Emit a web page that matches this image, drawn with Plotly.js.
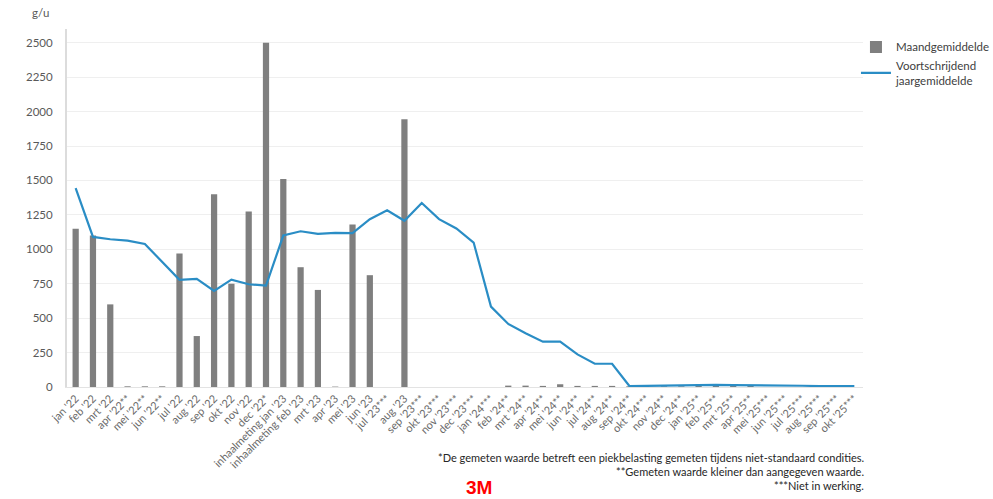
<!DOCTYPE html>
<html>
<head>
<meta charset="utf-8">
<script src="https://cdn.plot.ly/plotly-3.0.1.min.js"></script>
<style>
  html, body { margin: 0; padding: 0; background: #fff; }
  #chart { width: 993px; height: 499px; }
</style>
</head>
<body>
<div id="chart"></div>
<script>
// Maandlabels (x-as)
const months = [
  "jan '22", "feb '22", "mrt '22", "apr '22**", "mei '22**", "jun '22**",
  "jul '22", "aug '22", "sep '22", "okt '22", "nov '22", "dec '22*",
  "inhaalmeting jan '23", "inhaalmeting feb '23", "mrt '23", "apr '23", "mei '23", "jun '23",
  "jul '23***", "aug '23", "sep '23***", "okt '23***", "nov '23***", "dec '23***",
  "jan '24***", "feb '24**", "mrt '24**", "apr '24**", "mei '24**", "jun '24**",
  "jul '24**", "aug '24**", "sep '24**", "okt '24***", "nov '24**", "dec '24**",
  "jan '25**", "feb '25**", "mrt '25**", "apr '25**", "mei '25***", "jun '25***",
  "jul '25***", "aug '25***", "sep '25***", "okt '25***"
];

// Maandgemiddelde (g/u); null = niet in werking
const monthlyAvg = [
  1150, 1100, 600, 5, 5, 5,
  970, 370, 1400, 750, 1275, 2500,
  1510, 870, 705, 3, 1180, 812,
  null, 1945, null, null, null, null,
  null, 10, 10, 8, 20, 8,
  8, 8, 5, null, 5, 5,
  20, 10, 8, 8, null, null,
  null, null, null, null
];

// Voortschrijdend jaargemiddelde (g/u)
const rollingAvg = [
  1445, 1090, 1073, 1063, 1039, 908,
  778, 785, 698, 780, 746, 736,
  1100, 1131, 1112, 1119, 1117, 1219,
  1284, 1207, 1336, 1219, 1151, 1049,
  584, 458, 390, 329, 329, 237,
  169, 169, 7, 8, 10, 12,
  16, 15, 13, 13, 12, 10,
  9, 7, 6, 6
];

const yTicks = [0, 250, 500, 750, 1000, 1250, 1500, 1750, 2000, 2250, 2500];

const FONT = "Lato, 'Open Sans', sans-serif";

const traces = [
  {
    type: 'bar',
    name: 'Maandgemiddelde',
    x: months,
    y: monthlyAvg,
    marker: { color: '#7f7f7f' },
    hoverinfo: 'x+y'
  },
  {
    type: 'scatter',
    mode: 'lines',
    name: 'Voortschrijdend<br>jaargemiddelde',
    x: months,
    y: rollingAvg,
    line: { color: '#2a8dc5', width: 2.2 },
    hoverinfo: 'x+y'
  }
];

const layout = {
  width: 993,
  height: 499,
  paper_bgcolor: '#ffffff',
  plot_bgcolor: '#ffffff',
  margin: { l: 67, r: 130, t: 29, b: 112, autoexpand: false },
  font: { family: FONT, color: '#595959', size: 11 },
  bargap: 0.64,
  showlegend: true,
  legend: {
    xref: 'container', yref: 'container',
    x: 0.862, y: 0.935, xanchor: 'left', yanchor: 'top',
    font: { family: FONT, size: 11.5, color: '#404040' },
    tracegroupgap: 4,
    bgcolor: 'rgba(0,0,0,0)'
  },
  xaxis: {
    type: 'category',
    tickmode: 'linear', dtick: 1,
    tickangle: -45,
    tickfont: { family: FONT, size: 11, color: '#6a6a6a' },
    showgrid: false,
    showline: true, linecolor: '#e3e3e3', linewidth: 1,
    ticks: '',
    automargin: false
  },
  yaxis: {
    range: [0, 2600],
    tickvals: yTicks,
    ticktext: yTicks.map(String),
    tickfont: { family: FONT, size: 11.5, color: '#595959' },
    showgrid: true, gridcolor: '#efefef', gridwidth: 1,
    showline: true, linecolor: '#dcdcdc', linewidth: 2,
    zeroline: false,
    ticks: '',
    ticklabelstandoff: 10,
    automargin: false
  },
  annotations: [
    {
      text: 'g/u', xref: 'paper', yref: 'paper',
      x: -0.033, y: 1.045, xanchor: 'center', yanchor: 'middle',
      showarrow: false, font: { family: FONT, size: 11.5, color: '#595959' }
    },
    {
      text: '*De gemeten waarde betreft een piekbelasting gemeten tijdens niet-standaard condities.',
      xref: 'paper', yref: 'paper', x: 1.004, y: -0.198,
      xanchor: 'right', yanchor: 'middle', showarrow: false,
      font: { family: FONT, size: 11, color: '#262626' }
    },
    {
      text: '**Gemeten waarde kleiner dan aangegeven waarde.',
      xref: 'paper', yref: 'paper', x: 1.004, y: -0.236,
      xanchor: 'right', yanchor: 'middle', showarrow: false,
      font: { family: FONT, size: 11, color: '#262626' }
    },
    {
      text: '***Niet in werking.',
      xref: 'paper', yref: 'paper', x: 1.004, y: -0.274,
      xanchor: 'right', yanchor: 'middle', showarrow: false,
      font: { family: FONT, size: 11, color: '#262626' }
    },
    {
      text: '<b>3M</b>',
      xref: 'paper', yref: 'paper', x: 0.517, y: -0.282,
      xanchor: 'center', yanchor: 'middle', showarrow: false,
      font: { family: "'Liberation Sans', Arial, sans-serif", size: 19, color: '#ff0000' }
    }
  ]
};

Plotly.newPlot('chart', traces, layout, { displayModeBar: false, staticPlot: true });
</script>
</body>
</html>
